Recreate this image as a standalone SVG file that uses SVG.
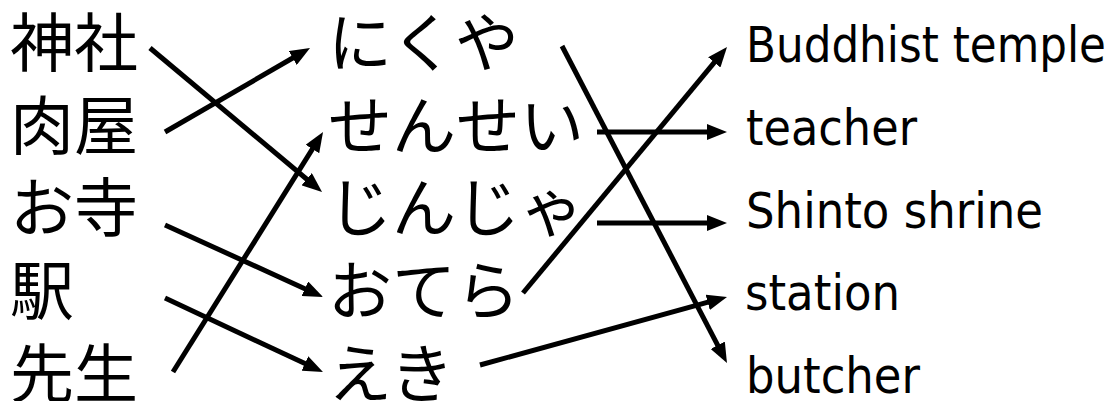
<svg xmlns="http://www.w3.org/2000/svg" width="1115" height="401" viewBox="0 0 1115 401">
<style>
.jp{font-family:"Noto Sans CJK JP","Noto Sans CJK SC",sans-serif;font-size:64px;fill:#000}
.en{font-family:"DejaVu Sans","Noto Sans",sans-serif;font-size:50px;fill:#000}
.c line{stroke:#000;stroke-width:5;marker-end:url(#ah)}
</style>
<defs>
<marker id="ah" markerUnits="userSpaceOnUse" markerWidth="20" markerHeight="16" refX="6" refY="8" orient="auto">
<path d="M0,0 L20,8 L0,16 z" fill="#000"/>
</marker>
</defs>
<rect width="1115" height="401" fill="#fff"/>
<g id="left">
<g id="n-jinja"><text class="jp" x="10" y="66">神社</text></g>
<g id="n-nikuya"><text class="jp" x="10" y="149">肉屋</text></g>
<g id="n-otera"><text class="jp" x="10" y="231">お寺</text></g>
<g id="n-eki"><text class="jp" x="10" y="314">駅</text></g>
<g id="n-sensei"><text class="jp" x="10" y="397">先生</text></g>
</g>
<g id="middle">
<g id="m-nikuya"><text class="jp" x="328" y="66">にくや</text></g>
<g id="m-sensei"><text class="jp" x="328" y="149">せんせい</text></g>
<g id="m-jinja"><text class="jp" x="328" y="231">じんじゃ</text></g>
<g id="m-otera"><text class="jp" x="328" y="314">おてら</text></g>
<g id="m-eki"><text class="jp" x="328" y="397">えき</text></g>
</g>
<g id="right">
<g id="r-temple"><text class="en" x="746" y="62" textLength="360" lengthAdjust="spacingAndGlyphs">Buddhist temple</text></g>
<g id="r-teacher"><text class="en" x="746" y="145" textLength="171" lengthAdjust="spacingAndGlyphs">teacher</text></g>
<g id="r-shrine"><text class="en" x="746" y="228" textLength="297" lengthAdjust="spacingAndGlyphs">Shinto shrine</text></g>
<g id="r-station"><text class="en" x="745" y="310" textLength="155" lengthAdjust="spacingAndGlyphs">station</text></g>
<g id="r-butcher"><text class="en" x="746" y="393" textLength="174" lengthAdjust="spacingAndGlyphs">butcher</text></g>
</g>
<g id="connectors" class="c">
<line x1="150" y1="48" x2="311.3" y2="183"/>
<line x1="165" y1="132" x2="297.9" y2="55"/>
<line x1="173" y1="372" x2="315.6" y2="143.9"/>
<line x1="165" y1="225" x2="310.3" y2="291.2"/>
<line x1="165" y1="298" x2="310.3" y2="366.1"/>
<line x1="562" y1="46" x2="720.5" y2="350.6"/>
<line x1="597" y1="132" x2="713" y2="132"/>
<line x1="597" y1="223" x2="713" y2="223"/>
<line x1="523" y1="293" x2="718.1" y2="57.8"/>
<line x1="480" y1="365" x2="713.5" y2="300.7"/>
</g>
</svg>
